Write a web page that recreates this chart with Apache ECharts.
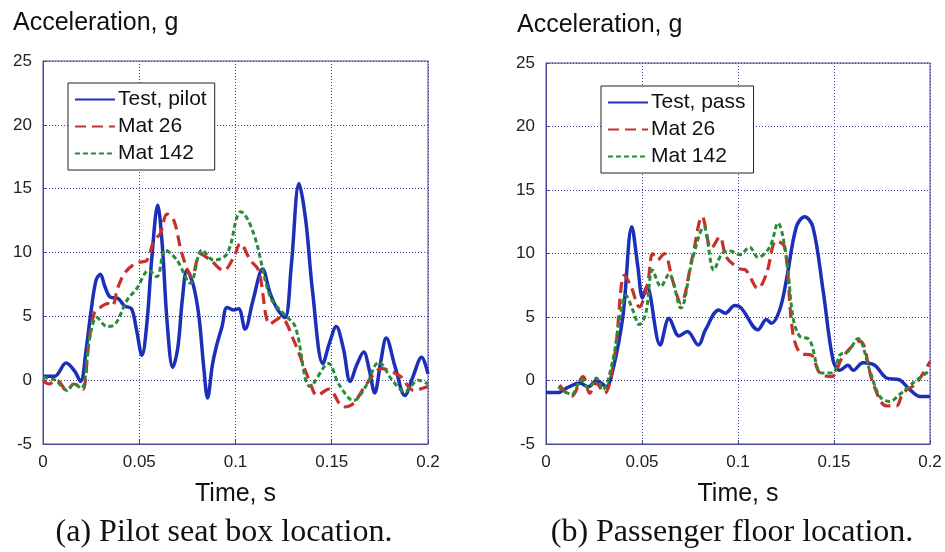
<!DOCTYPE html>
<html>
<head>
<meta charset="utf-8">
<script src="https://cdn.jsdelivr.net/npm/echarts@6/dist/echarts.min.js"></script>
<style>
html, body { margin: 0; padding: 0; background: #fff; }
#main { width: 945px; height: 552px; }
</style>
</head>
<body>
<div id="main"></div>
<script>
// (a) pilot seat box
var pilotTestT = [0, 0.006, 0.012, 0.0165, 0.0195, 0.0225, 0.0246, 0.0275, 0.0298, 0.032, 0.035, 0.039, 0.0425, 0.046, 0.0485, 0.0514, 0.054, 0.0565, 0.0596, 0.062, 0.0645, 0.0674, 0.070, 0.0725, 0.0748, 0.078, 0.081, 0.0835, 0.0855, 0.088, 0.090, 0.093, 0.0956, 0.099, 0.1016, 0.105, 0.109, 0.1141, 0.118, 0.122, 0.1257, 0.129, 0.133, 0.1365, 0.140, 0.1454, 0.149, 0.1523, 0.156, 0.1596, 0.163, 0.1666, 0.1695, 0.1723, 0.1755, 0.1783, 0.183, 0.188, 0.192, 0.1967, 0.2];
var pilotTestV = [0.3, 0.3, 1.35, 0.7, -0.1, 2.5, 5.0, 7.8, 8.3, 7.4, 6.5, 6.4, 5.8, 5.6, 4.0, 1.95, 4.5, 9.5, 13.7, 10.5, 4.5, 1.0, 2.5, 6.5, 8.6, 7.5, 5.0, 1.0, -1.4, 1.2, 2.6, 4.2, 5.7, 5.5, 5.6, 4.0, 6.2, 8.7, 6.8, 5.5, 4.9, 9.0, 15.4, 12.5, 7.0, 1.3, 3.0, 4.2, 2.5, -0.1, 1.2, 2.2, 0.8, -1.0, 1.5, 3.3, 1.0, -1.2, 0.2, 1.8, 0.5];

var pilotMat26T = [0, 0.003, 0.007, 0.0125, 0.016, 0.0195, 0.021, 0.0235, 0.0265, 0.0298, 0.0335, 0.0358, 0.039, 0.043, 0.0488, 0.054, 0.0575, 0.061, 0.0644, 0.068, 0.0722, 0.0774, 0.0817, 0.087, 0.0938, 0.099, 0.1025, 0.1077, 0.112, 0.118, 0.1234, 0.1303, 0.139, 0.1424, 0.1484, 0.1562, 0.1614, 0.168, 0.176, 0.1856, 0.1925, 0.2];
var pilotMat26V = [0.0, -0.3, 0.0, -0.8, -0.3, -0.5, -0.7, 2.5, 5.2, 5.7, 6.0, 5.8, 7.3, 8.5, 9.2, 9.4, 10.9, 11.5, 13.0, 12.5, 9.9, 8.1, 9.9, 9.4, 8.6, 9.6, 10.7, 9.4, 8.6, 4.4, 4.9, 3.1, -0.3, -1.2, -0.7, -2.1, -1.8, -0.3, 0.9, 0.3, -0.8, -0.5];

var pilotMat142T = [0, 0.0064, 0.0125, 0.016, 0.020, 0.0246, 0.028, 0.0333, 0.0376, 0.0436, 0.0488, 0.055, 0.0592, 0.0635, 0.0696, 0.0765, 0.0826, 0.0887, 0.0956, 0.1008, 0.1026, 0.1094, 0.1181, 0.125, 0.131, 0.1389, 0.1484, 0.1536, 0.1614, 0.1676, 0.1745, 0.1814, 0.188, 0.195, 0.2];
var pilotMat142V = [0.2, 0.0, -0.8, -0.3, -0.65, 3.6, 4.9, 4.2, 4.4, 6.25, 7.2, 8.6, 8.1, 10.2, 9.4, 7.6, 10.2, 9.4, 9.9, 12.8, 13.2, 11.5, 6.5, 5.2, 4.2, -0.5, 1.3, -0.3, -1.6, -0.5, 1.4, 0.0, -0.9, 0.0, -0.3];

// (b) passenger floor
var passTestT = [0, 0.0064, 0.0107, 0.0176, 0.022, 0.0262, 0.0288, 0.0314, 0.0348, 0.04, 0.0447, 0.0478, 0.0503, 0.0525, 0.0595, 0.0641, 0.0693, 0.0736, 0.0793, 0.0831, 0.09, 0.0934, 0.0983, 0.1017, 0.1104, 0.1148, 0.1174, 0.1217, 0.1252, 0.1304, 0.1347, 0.139, 0.1443, 0.1495, 0.153, 0.1573, 0.16, 0.1651, 0.1712, 0.1773, 0.1842, 0.1894, 0.1946, 0.2];
var passTestV = [-0.95, -0.95, -0.6, -0.2, -0.5, 0.0, -0.2, -0.5, 0.8, 5.0, 12.1, 9.0, 6.5, 7.4, 2.8, 4.9, 3.5, 3.85, 2.8, 4.0, 5.55, 5.3, 5.9, 5.7, 4.0, 4.8, 4.5, 5.55, 7.9, 12.1, 12.9, 12.1, 7.1, 1.6, 0.8, 1.2, 0.8, 1.4, 1.2, 0.2, 0.05, -0.7, -1.25, -1.25];

var passMat26T = [0.007, 0.0133, 0.0193, 0.0228, 0.026, 0.0305, 0.0357, 0.0409, 0.0443, 0.0486, 0.0529, 0.0555, 0.0581, 0.0616, 0.0659, 0.0702, 0.0762, 0.0814, 0.0861, 0.0905, 0.094, 0.1009, 0.104, 0.1104, 0.1148, 0.12, 0.1243, 0.1286, 0.133, 0.1382, 0.1425, 0.1486, 0.1547, 0.1634, 0.1703, 0.1773, 0.1825, 0.1859, 0.1929, 0.2];
var passMat26V = [-0.35, -1.25, 0.3, -1.0, -0.2, -1.0, 1.9, 8.3, 7.4, 5.8, 7.6, 10.0, 9.5, 10.0, 7.9, 6.1, 9.7, 12.9, 10.4, 11.3, 9.7, 8.8, 8.7, 7.25, 8.4, 11.0, 10.5, 3.7, 2.1, 2.0, 0.6, 0.3, 1.9, 3.1, -0.2, -2.0, -2.0, -1.0, -0.2, 1.5];

var passMat142T = [0.0064, 0.0133, 0.0184, 0.022, 0.0262, 0.0297, 0.0348, 0.0383, 0.0417, 0.0452, 0.0486, 0.052, 0.0555, 0.0598, 0.0641, 0.0702, 0.0762, 0.0822, 0.0874, 0.0917, 0.096, 0.1009, 0.106, 0.1104, 0.1165, 0.1208, 0.1252, 0.1286, 0.1321, 0.1373, 0.1434, 0.1495, 0.153, 0.1573, 0.1625, 0.1686, 0.1738, 0.179, 0.1842, 0.1911, 0.2];
var passMat142V = [-0.5, -1.1, 0.05, -0.6, 0.2, -0.7, 1.6, 4.8, 6.7, 5.55, 4.4, 5.3, 8.7, 7.4, 8.4, 5.7, 9.5, 12.1, 8.7, 10.0, 10.2, 9.9, 10.5, 9.7, 10.5, 12.4, 9.7, 5.0, 3.5, 3.2, 0.6, 0.6, 2.0, 2.3, 3.3, 0.8, -1.25, -1.65, -1.1, -0.2, 0.8];

var xTicks = [0, 0.05, 0.1, 0.15, 0.2];
var yTicks = [-5, 0, 5, 10, 15, 20, 25];

function zip(t, v) {
    var out = [];
    for (var i = 0; i < t.length; i++) out.push([t[i], v[i]]);
    return out;
}

var dom = document.getElementById("main");
var myChart = echarts.init(dom, null, { renderer: 'canvas' });

var blue = '#1b2fb8', red = '#c8302a', green = '#2a8c38';
var frame = '#46469a';
var sans = 'Liberation Sans, Arial, sans-serif';
var serif = '32px "Liberation Serif", "Times New Roman", serif';

function xAxisFor(gi) {
    return {
        type: 'value', gridIndex: gi,
        min: xTicks[0], max: xTicks[xTicks.length - 1], interval: 0.05,
        name: 'Time, s', nameLocation: 'middle', nameGap: 38,
        nameTextStyle: { fontFamily: sans, fontSize: 25, color: '#111' },
        axisLine: { show: true, onZero: false, lineStyle: { color: frame, width: 1 } },
        axisTick: { show: true, inside: true, length: 4, lineStyle: { color: frame } },
        axisLabel: { margin: 10, fontFamily: sans, fontSize: 17, color: '#222' },
        splitLine: { show: true, lineStyle: { color: '#3c3ca0', width: 1, type: [1, 2] } }
    };
}
function yAxisFor(gi) {
    return {
        type: 'value', gridIndex: gi,
        min: yTicks[0], max: yTicks[yTicks.length - 1], interval: 5,
        axisLine: { show: true, onZero: false, lineStyle: { color: frame, width: 1 } },
        axisTick: { show: true, inside: true, length: 4, lineStyle: { color: frame } },
        axisLabel: { margin: 11, fontFamily: sans, fontSize: 17, color: '#222' },
        splitLine: { show: true, lineStyle: { color: '#3c3ca0', width: 1, type: [1, 2] } }
    };
}
function lineSeries(name, data, gi, color, width, dash) {
    return {
        name: name, type: 'line', xAxisIndex: gi, yAxisIndex: gi,
        data: data, showSymbol: false, symbol: 'none', smooth: 0.35,
        animation: false,
        lineStyle: { color: color, width: width, type: dash },
        itemStyle: { color: color }
    };
}
function legendFor(left, top, names) {
    return {
        data: names, orient: 'vertical', left: left, top: top,
        backgroundColor: '#fff', borderColor: '#222', borderWidth: 1,
        padding: [6, 8, 6, 6], itemGap: 6, itemWidth: 40, itemHeight: 14,
        selectedMode: false,
        itemStyle: { opacity: 0 },
        textStyle: { fontFamily: sans, fontSize: 21, color: '#111', padding: [0, 0, 0, -2] }
    };
}

option = null;
option = {
    backgroundColor: '#fff',
    animation: false,
    title: [
        { text: 'Acceleration, g', left: 8, top: 6, textStyle: { fontFamily: sans, fontSize: 25, fontWeight: 'normal', color: '#111' } },
        { text: 'Acceleration, g', left: 512, top: 8, textStyle: { fontFamily: sans, fontSize: 25, fontWeight: 'normal', color: '#111' } }
    ],
    grid: [
        { left: 43, right: 517, top: 61, bottom: 108, show: true, borderColor: frame, borderWidth: 1, backgroundColor: '#fff' },
        { left: 546, right: 15, top: 63, bottom: 108, show: true, borderColor: frame, borderWidth: 1, backgroundColor: '#fff' }
    ],
    legend: [
        legendFor(68, 83, ['Test, pilot', 'Mat 26', 'Mat 142']),
        legendFor(601, 86, ['Test, pass', 'Mat 26', 'Mat 142'])
    ],
    xAxis: [xAxisFor(0), xAxisFor(1)],
    yAxis: [yAxisFor(0), yAxisFor(1)],
    series: [
        lineSeries('Test, pilot', zip(pilotTestT, pilotTestV), 0, blue, 3.5, 'solid'),
        lineSeries('Mat 26', zip(pilotMat26T, pilotMat26V), 0, red, 3.2, [11, 6]),
        lineSeries('Mat 142', zip(pilotMat142T, pilotMat142V), 0, green, 3, [5, 3]),
        lineSeries('Test, pass', zip(passTestT, passTestV), 1, blue, 3.5, 'solid'),
        lineSeries('Mat 26', zip(passMat26T, passMat26V), 1, red, 3.2, [11, 6]),
        lineSeries('Mat 142', zip(passMat142T, passMat142V), 1, green, 3, [5, 3])
    ],
    graphic: [
        { type: 'text', x: 224, y: 533, style: { text: '(a) Pilot seat box location.', font: serif, fill: '#111', textAlign: 'center', textVerticalAlign: 'middle' } },
        { type: 'text', x: 732, y: 533, style: { text: '(b) Passenger floor location.', font: serif, fill: '#111', textAlign: 'center', textVerticalAlign: 'middle' } }
    ]
};

myChart.setOption(option);
</script>
</body>
</html>
